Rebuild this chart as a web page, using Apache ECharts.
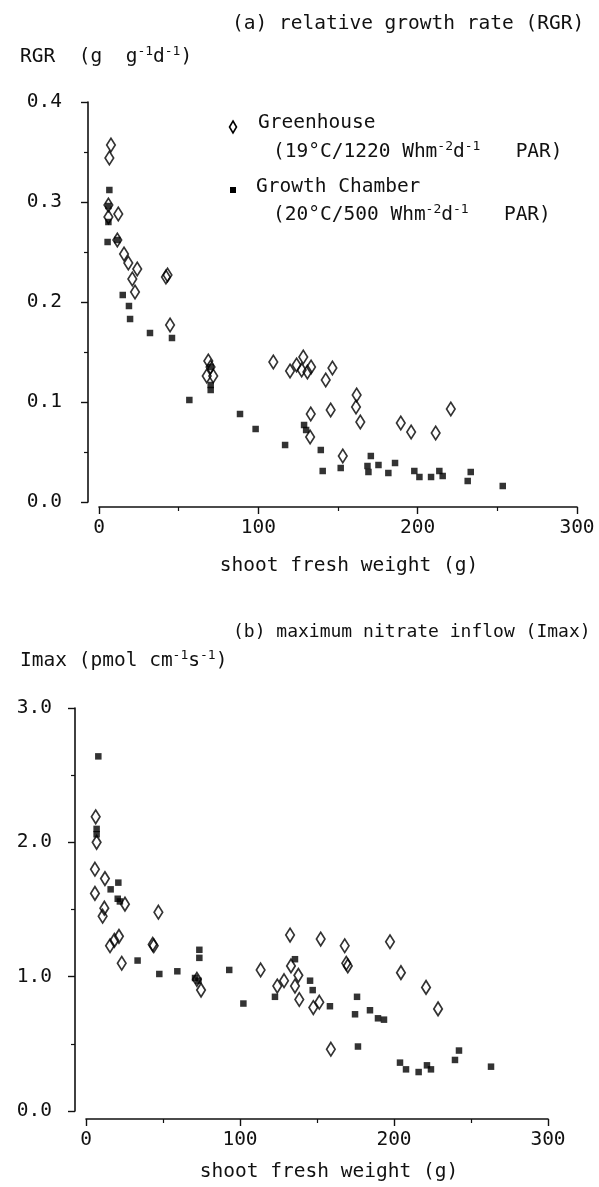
<!DOCTYPE html>
<html><head><meta charset="utf-8">
<script src="https://cdn.jsdelivr.net/npm/echarts@6/dist/echarts.min.js"></script>
<style>html,body{margin:0;padding:0;background:#fff}#c{width:599px;height:1187px}</style>
</head><body><div id="c"></div>
<script>
// ---- data ----
const weightTicks = [0, 100, 200, 300];
const rgrTicks = [0, 0.1, 0.2, 0.3, 0.4];
const imaxTicks = [0, 1, 2, 3];

// (a) RGR, Greenhouse  [shoot fresh weight g, RGR g g-1 d-1]
const rgrGreenhouse = [
  [7.5,0.357],[6.5,0.344],[5.9,0.297],[5.9,0.285],[12.1,0.288],[11.5,0.262],
  [15.7,0.248],[18.4,0.239],[24,0.233],[20.9,0.223],[22.6,0.210],[42,0.225],
  [43,0.227],[44.6,0.177],[68.6,0.141],[70,0.135],[67.6,0.126],[71.7,0.126],
  [109.4,0.140],[119.9,0.131],[124,0.137],[128.2,0.145],[127.2,0.132],[130.8,0.130],
  [133.1,0.135],[146.5,0.134],[142.3,0.122],[132.9,0.088],[132.5,0.065],[145.4,0.092],
  [161.7,0.107],[161.3,0.095],[164,0.080],[153,0.046],[189.4,0.079],[195.9,0.070],
  [211.3,0.069],[220.8,0.093]
];
// (a) RGR, Growth Chamber
const rgrChamber = [
  [6.5,0.312],[5.9,0.296],[5.9,0.280],[5.4,0.260],[11.5,0.262],[14.9,0.207],
  [18.8,0.196],[19.5,0.183],[32,0.169],[45.8,0.164],[56.7,0.102],[70.1,0.135],
  [70.1,0.117],[70.1,0.112],[88.5,0.088],[98.3,0.073],[116.8,0.057],[128.7,0.077],
  [130,0.072],[139.2,0.052],[140.4,0.031],[151.7,0.034],[170.6,0.046],[168.5,0.036],
  [169.1,0.030],[175.4,0.037],[181.6,0.029],[185.8,0.039],[197.9,0.031],[201.1,0.025],
  [208.4,0.025],[213.6,0.031],[215.7,0.026],[231.4,0.021],[233.3,0.030],[253.4,0.016]
];
// (b) Imax, Greenhouse  [shoot fresh weight g, Imax pmol cm-1 s-1]
const imaxGreenhouse = [
  [6.3,2.19],[6.9,2.00],[5.8,1.80],[12.3,1.73],[5.8,1.62],[25.3,1.54],[11.9,1.51],
  [10.8,1.45],[21.4,1.30],[18.4,1.27],[15.6,1.23],[23.2,1.10],[47,1.48],[43.3,1.24],
  [44,1.23],[72,0.98],[74.7,0.90],[113.4,1.05],[132.5,1.31],[152.4,1.28],[133.1,1.08],
  [137.9,1.01],[135.7,0.93],[128.6,0.97],[124.2,0.93],[138.5,0.83],[147.6,0.77],
  [151.5,0.81],[159,0.46],[168,1.23],[169,1.10],[170,1.08],[197.4,1.26],[204.5,1.03],
  [220.8,0.92],[228.6,0.76]
];
// (b) Imax, Growth Chamber
const imaxChamber = [
  [8.0,2.64],[6.9,2.10],[6.9,2.06],[21,1.70],[16,1.65],[20.6,1.58],[22,1.56],
  [33.5,1.12],[47.6,1.02],[59.3,1.04],[73.6,1.20],[73.6,1.14],[70.8,0.99],[73,0.97],
  [93,1.05],[102.2,0.80],[122.7,0.85],[135.7,1.13],[145.5,0.97],[147.2,0.90],
  [158.4,0.78],[176,0.85],[174.7,0.72],[176.6,0.48],[184.4,0.75],[189.6,0.69],
  [193.5,0.68],[203.9,0.36],[207.8,0.31],[216,0.29],[221.4,0.34],[224,0.31],
  [239.6,0.38],[242.2,0.45],[263,0.33]
];

// ---- styling ----
const FONT = '"DejaVu Sans Mono", monospace';
const FS = 19.5;
const ink = '#111';
function makeRich(fs) {
  return {
    t: {fontFamily: FONT, fontSize: fs, color: ink, lineHeight: 24, verticalAlign: 'middle'},
    s: {fontFamily: FONT, fontSize: 13, color: ink, lineHeight: 12, verticalAlign: 'top'}
  };
}
function label(text, left, cy, fs) {
  fs = fs || FS;
  return {text: text, left: left, top: cy - 12, padding: 0, itemGap: 0,
    textStyle: {rich: makeRich(fs), fontFamily: FONT, fontSize: fs, color: ink, fontWeight: 'normal'}};
}
function xAx(gridIndex, offset, margin, nameGap, namePad) {
  return {
    type: 'value', gridIndex: gridIndex,
    min: weightTicks[0], max: weightTicks[weightTicks.length - 1],
    interval: weightTicks[1] - weightTicks[0], offset: offset,
    axisLine: {show: true, onZero: false, lineStyle: {color: ink, width: 1.6}},
    axisTick: {show: true, inside: false, length: 7, lineStyle: {color: ink, width: 1.4}},
    minorTick: {show: true, splitNumber: 2, length: 4, lineStyle: {color: ink, width: 1.2}},
    splitLine: {show: false}, minorSplitLine: {show: false},
    axisLabel: {color: ink, fontFamily: FONT, fontSize: FS, margin: margin,
      formatter: v => String(Math.round(v))},
    name: 'shoot fresh weight (g)', nameLocation: 'middle', nameGap: nameGap,
    nameTextStyle: {color: ink, fontFamily: FONT, fontSize: FS, verticalAlign: 'middle',
      padding: [0, 0, 0, namePad]}
  };
}
function yAx(gridIndex, ticks, offset, margin) {
  return {
    type: 'value', gridIndex: gridIndex,
    min: ticks[0], max: ticks[ticks.length - 1], interval: ticks[1] - ticks[0],
    offset: offset,
    axisLine: {show: true, onZero: false, lineStyle: {color: ink, width: 1.6}},
    axisTick: {show: true, inside: false, length: 7, lineStyle: {color: ink, width: 1.4}},
    minorTick: {show: true, splitNumber: 2, length: 4, lineStyle: {color: ink, width: 1.2}},
    splitLine: {show: false}, minorSplitLine: {show: false},
    axisLabel: {color: ink, fontFamily: FONT, fontSize: FS, margin: margin,
      formatter: v => v.toFixed(1)}
  };
}
const diamondStyle = {color: 'rgba(255,255,255,0)', borderColor: '#000', borderWidth: 1.8};
const squareStyle = {color: '#000'};

const chart = echarts.init(document.getElementById('c'), null, {renderer: 'canvas'});
chart.setOption({
  backgroundColor: '#fff',
  animation: false,
  title: [
    label('{t|(a) relative growth rate (RGR)}', 232, 24),
    label('{t|RGR  (g  g}{s|-1}{t|d}{s|-1}{t|)}', 20, 57),
    label('{t|Greenhouse}', 258, 123),
    label('{t|(19°C/1220 Whm}{s|-2}{t|d}{s|-1}{t|   PAR)}', 273, 152),
    label('{t|Growth Chamber}', 256, 187),
    label('{t|(20°C/500 Whm}{s|-2}{t|d}{s|-1}{t|   PAR)}', 273, 215),
    label('{t|(b) maximum nitrate inflow (Imax)}', 233, 632, 18),
    label('{t|Imax (pmol cm}{s|-1}{t|s}{s|-1}{t|)}', 20, 661)
  ],
  graphic: [
    {type: 'polygon', silent: true,
      shape: {points: [[233, 121], [236.5, 127], [233, 133], [229.5, 127]]},
      style: {fill: '#fff', stroke: '#000', lineWidth: 1.6}},
    {type: 'rect', silent: true, shape: {x: 230, y: 187, width: 6, height: 6},
      style: {fill: '#000'}}
  ],
  grid: [
    {left: 99, right: 22, top: 102, height: 400, containLabel: false, outerBoundsMode: 'none'},
    {left: 86, right: 51, top: 708, height: 403, containLabel: false, outerBoundsMode: 'none'}
  ],
  xAxis: [xAx(0, 5, 11, 59, 22), xAx(1, 8, 11, 53, 24)],
  yAxis: [yAx(0, rgrTicks, 11, 26), yAx(1, imaxTicks, 11, 23)],
  series: [
    {type: 'scatter', xAxisIndex: 0, yAxisIndex: 0, data: rgrChamber, symbol: 'rect',
      symbolSize: 6.5, itemStyle: squareStyle, silent: true, z: 2},
    {type: 'scatter', xAxisIndex: 0, yAxisIndex: 0, data: rgrGreenhouse, symbol: 'diamond',
      symbolSize: [8.5, 13.5], itemStyle: diamondStyle, silent: true, z: 3},
    {type: 'scatter', xAxisIndex: 1, yAxisIndex: 1, data: imaxChamber, symbol: 'rect',
      symbolSize: 6.5, itemStyle: squareStyle, silent: true, z: 2},
    {type: 'scatter', xAxisIndex: 1, yAxisIndex: 1, data: imaxGreenhouse, symbol: 'diamond',
      symbolSize: [8.5, 13.5], itemStyle: diamondStyle, silent: true, z: 3}
  ]
});
</script>
</body></html>
